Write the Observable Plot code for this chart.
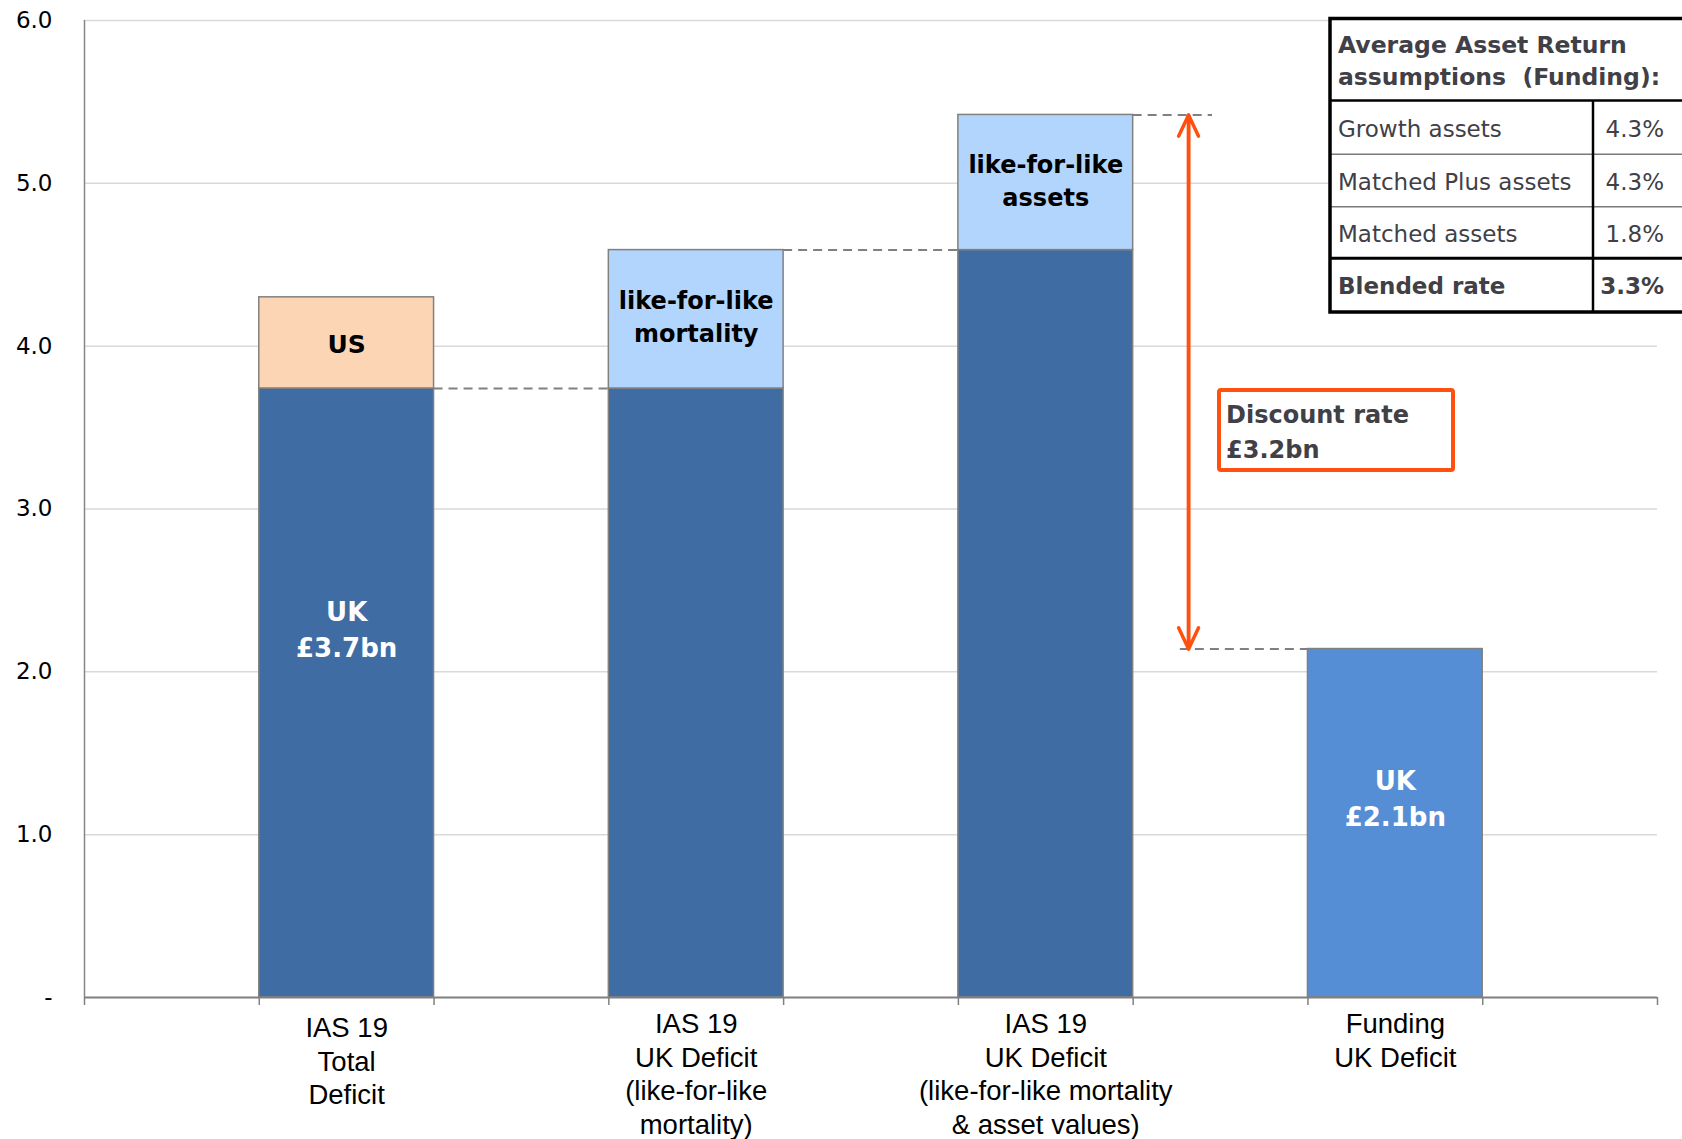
<!DOCTYPE html>
<html>
<head>
<meta charset="utf-8">
<script src="https://cdn.jsdelivr.net/npm/d3@7"></script>
<script src="https://cdn.jsdelivr.net/npm/@observablehq/plot@0.6"></script>
<style>
  html, body { margin: 0; padding: 0; background: #fff; overflow: hidden; }
  #chart svg { display: block; }
</style>
</head>
<body>
<div id="chart"></div>
<script>
// Deficit bridge: IAS 19 vs Funding basis (£bn)
const categories = [
  "IAS 19\nTotal\nDeficit",
  "IAS 19\nUK Deficit\n(like-for-like\nmortality)",
  "IAS 19\nUK Deficit\n(like-for-like mortality\n& asset values)",
  "Funding\nUK Deficit"
];
// category slot on the axis (bars sit in every other slot)
const slots = [1, 3, 5, 7];

// stacked segments, one value per category (bottom to top)
const segmentKinds = ["UK", "US", "mortality", "assets", "funding"];
const ukDeficit      = [3.74, 3.74, 4.59, 0];
const usDeficit      = [0.56, 0, 0, 0];
const mortalityAdj   = [0, 0.85, 0, 0];
const assetAdj       = [0, 0, 0.83, 0];
const fundingDeficit = [0, 0, 0, 2.14];

const segmentText = {US: "US", mortality: "like-for-like\nmortality", assets: "like-for-like\nassets"};

const yTicks = [0, 1, 2, 3, 4, 5, 6];

// discount-rate annotation
const discountRate = 3.2;

// asset return assumptions table
const tableTitle = ["Average Asset Return", "assumptions\u00a0 (Funding):"];
const assetClasses = ["Growth assets", "Matched Plus assets", "Matched assets"];
const assetReturns = [4.3, 4.3, 1.8];
const blendedRate = 3.3;

// ---- build the stacked table ----
const series = [ukDeficit, usDeficit, mortalityAdj, assetAdj, fundingDeficit];
const segments = [];
const totals = categories.map((c, i) => {
  let base = 0;
  series.forEach((vals, k) => {
    const v = vals[i];
    if (v > 0) {
      segments.push({bar: i, kind: segmentKinds[k], value: v,
                     x1: slots[i], x2: slots[i] + 1, y1: base, y2: base + v});
      base += v;
    }
  });
  return base;
});

const colors = ["#3f6ca3", "#fcd5b4", "#b1d5fc", "#b1d5fc", "#558ed5"];

const fmt = d3.format(".1f");

// region + value labels in the UK and Funding bars
const lift = {0: 0.607, 3: 0.578};
const valueLabels = segments
  .filter(s => (s.kind === "UK" && s.bar === 0) || s.kind === "funding")
  .map(s => ({x: s.x1 + 0.5, y: s.value * lift[s.bar], text: `UK\n£${fmt(s.value)}bn`}));

const stepLabels = segments
  .filter(s => segmentText[s.kind])
  .map(s => ({x: s.x1 + 0.5, y: (s.y1 + s.y2) / 2, text: segmentText[s.kind], kind: s.kind}));

// arrow between the like-for-like IAS 19 total and the Funding deficit
const arrowX = 6.317;
const arrowRows = [
  {x: arrowX, from: totals[3], to: totals[2]},
  {x: arrowX, from: totals[2], to: totals[3]}
];

// dashed step connectors
const connectors = [
  {x1: slots[0] + 1, x2: slots[1], y: ukDeficit[1]},
  {x1: slots[1] + 1, x2: slots[2], y: totals[1]},
  {x1: slots[2] + 1, x2: arrowX + 0.137, y: totals[2]},
  {x1: arrowX - 0.047, x2: slots[3], y: totals[3]}
];

const orange = "#ff5010";

// category labels under the axis; the first one sits a little lower
const categoryAxis = (which, padding) => Plot.axisX({
  ticks: which.map(i => slots[i] + 0.5),
  tickFormat: d => categories[slots.indexOf(d - 0.5)],
  tickSize: 0, tickPadding: padding, fontSize: 27.5, lineHeight: 1.22, fill: "black", label: null
});

const boldLabel = {x: "x", y: "y", text: "text", fontFamily: "DejaVu Sans", fontWeight: "bold"};

const chart = Plot.plot({
  width: 1682,
  height: 1139,
  marginTop: 20,
  marginBottom: 142,
  marginLeft: 84,
  marginRight: 25,
  x: {domain: [0, 9], label: null},
  y: {domain: [0, 6], label: null},
  color: {domain: segmentKinds, range: colors},
  style: {fontFamily: "Liberation Sans", fontSize: "23px", color: "black", background: "white", overflow: "visible"},
  marks: [
    Plot.gridY(yTicks.filter(d => d > 0), {stroke: "#d9d9d9", strokeOpacity: 1, strokeWidth: 1.5}),
    Plot.rectY(segments, {x1: "x1", x2: "x2", y1: "y1", y2: "y2", fill: "kind", stroke: "#808080", strokeWidth: 1.5}),
    Plot.ruleY(connectors, {x1: "x1", x2: "x2", y: "y", stroke: "#808080", strokeWidth: 2, strokeDasharray: "9,6"}),
    Plot.arrow(arrowRows, {x1: "x", x2: "x", y1: "from", y2: "to", stroke: orange, strokeWidth: 3.5, headLength: 10, headAngle: 50}),
    Plot.ruleX([0], {stroke: "#868686", strokeWidth: 1.5}),
    Plot.ruleY([0], {stroke: "#808080", strokeWidth: 2}),
    Plot.axisY({ticks: yTicks, tickFormat: d => d === 0 ? "-" : d.toFixed(1), tickSize: 0, tickPadding: 32,
                fontFamily: "DejaVu Sans", fontSize: 23, fill: "black", label: null}),
    Plot.axisX({ticks: d3.range(0, 10), tickSize: 8, tickFormat: () => "", stroke: "#808080", strokeWidth: 1.5, label: null}),
    categoryAxis([0], 16),
    categoryAxis([1, 2, 3], 12),
    Plot.text(stepLabels.filter(d => d.kind === "US"), {...boldLabel, fontSize: 25, dy: 2, fill: "black"}),
    Plot.text(stepLabels.filter(d => d.kind !== "US"), {...boldLabel, fontSize: 24, lineHeight: 1.375, dy: -4, fill: "black"}),
    Plot.text(valueLabels, {...boldLabel, fontSize: 26, lineHeight: 1.385, fill: "white"})
  ]
});

document.getElementById("chart").appendChild(chart);

// ---- annotations drawn on top of the plot ----
const svg = d3.select(chart);
const ink = "#404046";

// discount-rate callout
const call = svg.append("g").attr("font-family", "DejaVu Sans").attr("font-weight", "bold")
  .attr("font-size", 24).attr("fill", ink).attr("text-anchor", "start");
call.append("rect").attr("x", 1219).attr("y", 390).attr("width", 234).attr("height", 80)
  .attr("rx", 2).attr("fill", "white").attr("stroke", orange).attr("stroke-width", 4);
call.append("text").attr("x", 1226).attr("y", 423).text("Discount rate");
call.append("text").attr("x", 1226).attr("y", 458).text(`£${fmt(discountRate)}bn`);

// asset return assumptions table
const tb = svg.append("g").attr("font-family", "DejaVu Sans").attr("font-size", 23)
  .attr("fill", ink).attr("text-anchor", "start");
const tLeft = 1330, tRight = 1700, tTop = 18.5, tBottom = 312, colX = 1593;
const rowLines = [100.5, 154.3, 206.7, 258.3];
tb.append("rect").attr("x", tLeft).attr("y", tTop).attr("width", tRight - tLeft).attr("height", tBottom - tTop)
  .attr("fill", "white").attr("stroke", "none");
tableTitle.forEach((t, i) => {
  tb.append("text").attr("x", 1338).attr("y", [53, 85][i]).attr("font-weight", "bold")
    .attr("font-size", 23.5).style("white-space", "pre").text(t);
});
const rows = assetClasses.map((c, i) => ({label: c, value: assetReturns[i], bold: false}))
  .concat([{label: "Blended rate", value: blendedRate, bold: true}]);
const baselines = [137, 189.5, 242, 293.5];
rows.forEach((r, i) => {
  tb.append("text").attr("x", 1338).attr("y", baselines[i]).attr("font-weight", r.bold ? "bold" : "normal").text(r.label);
  tb.append("text").attr("x", 1664).attr("y", baselines[i]).attr("text-anchor", "end")
    .attr("font-weight", r.bold ? "bold" : "normal").text(fmt(r.value) + "%");
});
// rules of the table
const hLine = (y, color, w) => tb.append("line").attr("x1", tLeft).attr("x2", tRight)
  .attr("y1", y).attr("y2", y).attr("stroke", color).attr("stroke-width", w);
hLine(rowLines[1], "#7a7a7a", 1.5);
hLine(rowLines[2], "#7a7a7a", 1.5);
hLine(rowLines[0], "#000", 2.5);
hLine(rowLines[3], "#000", 3);
tb.append("line").attr("x1", colX).attr("x2", colX).attr("y1", rowLines[0]).attr("y2", tBottom)
  .attr("stroke", "#000").attr("stroke-width", 2.5);
tb.append("rect").attr("x", tLeft).attr("y", tTop).attr("width", tRight - tLeft).attr("height", tBottom - tTop)
  .attr("fill", "none").attr("stroke", "#000").attr("stroke-width", 3.5);
</script>
</body>
</html>
